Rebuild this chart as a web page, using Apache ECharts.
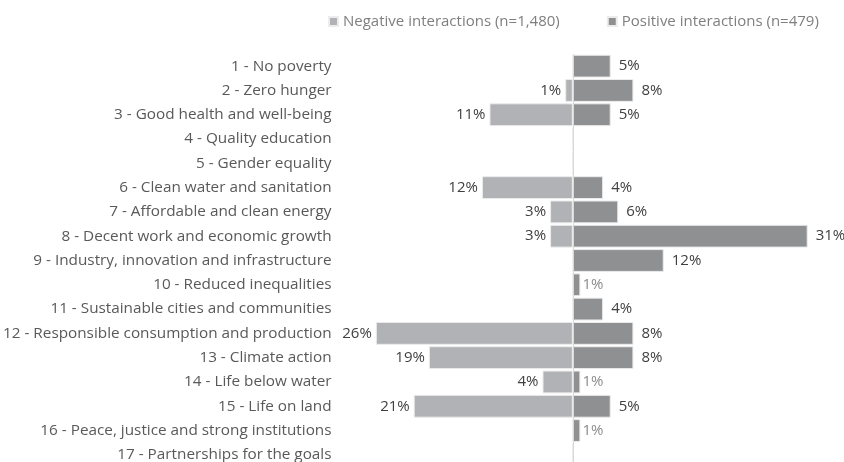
<!DOCTYPE html>
<html>
<head>
<meta charset="utf-8">
<script src="https://cdn.jsdelivr.net/npm/echarts@6/dist/echarts.min.js"></script>
<style>
  html, body { margin: 0; padding: 0; background: #fff; overflow: hidden; }
  #chart { width: 844px; height: 467px; }
</style>
</head>
<body>
<div id="chart"></div>
<script>
// SDG categories, top to bottom
const goals = [
  '1 - No poverty',
  '2 - Zero hunger',
  '3 - Good health and well-being',
  '4 - Quality education',
  '5 - Gender equality',
  '6 - Clean water and sanitation',
  '7 - Affordable and clean energy',
  '8 - Decent work and economic growth',
  '9 - Industry, innovation and infrastructure',
  '10 - Reduced inequalities',
  '11 - Sustainable cities and communities',
  '12 - Responsible consumption and production',
  '13 - Climate action',
  '14 - Life below water',
  '15 - Life on land',
  '16 - Peace, justice and strong institutions',
  '17 - Partnerships for the goals'
];
// shares in %
const negative = [0, 1, 11, 0, 0, 12, 3, 3, 0, 0, 0, 26, 19, 4, 21, 0, 0];
const positive = [5, 8, 5, 0, 0, 4, 6, 31, 12, 1, 4, 8, 8, 1, 5, 1, 0];

const negName = 'Negative interactions (n=1,480)';
const posName = 'Positive interactions (n=479)';
const font = 'Open Sans';

// chart box is a bit taller than the window; the last row is cut like in the original
const chart = echarts.init(document.getElementById('chart'));

chart.setOption({
  animation: false,
  textStyle: { fontFamily: font },
  legend: {
    left: 323,
    top: 9,
    itemWidth: 9,
    itemHeight: 9,
    itemGap: 47,
    icon: 'rect',
    textStyle: { fontSize: 15, color: '#7f7f7f', fontFamily: font },
    data: [negName, posName]
  },
  grid: { left: 345, right: 6, top: 54, bottom: 0, containLabel: false },
  xAxis: {
    type: 'value',
    min: -30,
    max: 35,
    show: false
  },
  yAxis: {
    type: 'category',
    inverse: true,
    data: goals,
    axisLine: { show: false },
    axisTick: { show: false },
    axisLabel: { fontSize: 15.3, color: '#595959', margin: 14, fontFamily: font }
  },
  series: [
    {
      name: negName,
      type: 'bar',
      stack: 'all',
      barCategoryGap: '6%',
      data: negative.map(v => -v),
      itemStyle: { color: '#b1b2b5', borderColor: '#ececec', borderWidth: 1 },
      label: {
        show: true,
        position: 'left',
        distance: 4,
        fontSize: 15,
        color: '#404040',
        formatter: p => p.value === 0 ? '' : Math.abs(p.value) + '%'
      },
      markLine: {
        silent: true,
        symbol: 'none',
        label: { show: false },
        lineStyle: { color: '#d9d9d9', width: 1, type: 'solid' },
        data: [{ xAxis: 0 }]
      }
    },
    {
      name: posName,
      type: 'bar',
      stack: 'all',
      barCategoryGap: '6%',
      data: positive.map(v => v === 1 ? {
        value: v,
        label: { color: '#8c8c8c', distance: 2 }
      } : v),
      itemStyle: { color: '#8f9092', borderColor: '#ececec', borderWidth: 1 },
      label: {
        show: true,
        position: 'right',
        distance: 8,
        fontSize: 15,
        color: '#404040',
        formatter: p => p.value === 0 ? '' : p.value + '%'
      }
    }
  ]
});
</script>
</body>
</html>
